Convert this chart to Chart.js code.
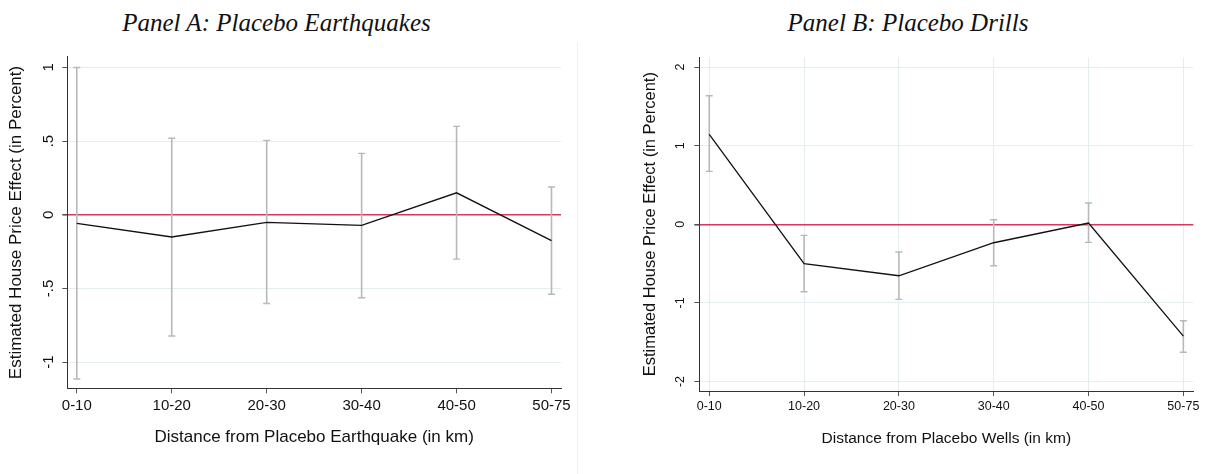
<!DOCTYPE html>
<html>
<head>
<meta charset="utf-8">
<script src="https://cdn.jsdelivr.net/npm/chart.js@4/dist/chart.umd.min.js"></script>
<style>
  body { margin: 0; background: #fff; width: 1206px; height: 474px; position: relative; overflow: hidden; }
  canvas { position: absolute; top: 0; }
  .panel-title { position: absolute; top: 8px; line-height: 30px; text-align: center;
    font-family: "Liberation Serif", serif; font-style: italic; font-size: 25px; color: #111; }
  .sep { position: absolute; left: 577px; top: 42px; width: 1px; height: 432px; background: #eef1f1; }
</style>
</head>
<body>
<div class="panel-title" style="left:0; width:553px;">Panel A: Placebo Earthquakes</div>
<div class="panel-title" style="left:608px; width:600px;">Panel B: Placebo Drills</div>
<div class="sep"></div>
<canvas id="chart-a" width="577" height="474" style="left:0"></canvas>
<canvas id="chart-b" width="576" height="474" style="left:630px"></canvas>
<script>
// --- data ---
const DISTANCE_BINS = ['0-10', '10-20', '20-30', '30-40', '40-50', '50-75'];

// Panel A: placebo earthquakes
const EST_A  = [-0.058, -0.151, -0.052, -0.072, 0.149, -0.176];
const HI_A   = [ 1.000,  0.519,  0.505,  0.417, 0.600,  0.188];
const LO_A   = [-1.115, -0.823, -0.602, -0.563, -0.301, -0.540];
const Y_TICKS_A  = [-1, -0.5, 0, 0.5, 1];
const Y_LABELS_A = ['-1', '-.5', '0', '.5', '1'];
const Y_RANGE_A  = [-1.178, 1.073];
const X_RANGE_A  = [-0.1, 5.1];

// Panel B: placebo drills
const EST_B  = [1.145, -0.501, -0.654, -0.234, 0.017, -1.421];
const HI_B   = [1.636, -0.140, -0.352,  0.059, 0.271, -1.226];
const LO_B   = [0.674, -0.857, -0.954, -0.527, -0.229, -1.628];
const Y_TICKS_B  = [-2, -1, 0, 1, 2];
const Y_LABELS_B = ['-2', '-1', '0', '1', '2'];
const Y_RANGE_B  = [-2.12, 2.125];
const X_RANGE_B  = [-0.105, 5.105];

const GRID = '#e4edef';
const ZERO_RED = '#d8375c';
const CI_GRAY = '#b8b8b8';
const AXIS = '#333';

Chart.defaults.font.family = '"Liberation Sans", Arial, sans-serif';
Chart.defaults.color = '#111';

// error bars as one broken line: (i, lo) -> (i, hi), then a gap
function ciSegments(lo, hi) {
  const pts = [];
  lo.forEach((v, i) => { pts.push({ x: i, y: v }, { x: i, y: hi[i] }, { x: i, y: null }); });
  return pts;
}

function makePanel(id, cfg) {
  const est = cfg.est.map((v, i) => ({ x: i, y: v }));
  return new Chart(document.getElementById(id), {
    type: 'line',
    data: {
      datasets: [
        {
          data: est, borderColor: '#111', borderWidth: 1.3,
          pointRadius: 0, tension: 0, order: 0,
        },
        {
          data: ciSegments(cfg.lo, cfg.hi), borderColor: CI_GRAY, borderWidth: 1.6,
          pointStyle: 'line', pointRadius: 3.5, pointBorderColor: CI_GRAY,
          pointBorderWidth: 1.4, spanGaps: false, order: 1,
        },
      ],
    },
    options: {
      responsive: false, animation: false, events: [],
      devicePixelRatio: 1,
      layout: { padding: cfg.padding },
      plugins: { legend: { display: false }, tooltip: { enabled: false }, title: { display: false } },
      scales: {
        x: {
          type: 'linear', min: cfg.xRange[0], max: cfg.xRange[1],
          afterBuildTicks: s => { s.ticks = DISTANCE_BINS.map((_, i) => ({ value: i })); },
          afterFit: s => { s.height = cfg.xHeight; },
          ticks: {
            callback: v => DISTANCE_BINS[v], autoSkip: false, maxRotation: 0,
            font: { size: cfg.tickSize }, color: '#111', padding: cfg.xTickPad,
          },
          grid: {
            color: GRID, drawOnChartArea: cfg.vGrid, tickLength: 5, tickColor: '#555',
          },
          border: { color: AXIS, width: 1 },
          title: {
            display: true, text: cfg.xTitle, font: { size: cfg.titleSize },
            color: '#111', padding: { top: 0, bottom: cfg.xTitlePad },
          },
        },
        y: {
          min: cfg.yRange[0], max: cfg.yRange[1],
          afterBuildTicks: s => { s.ticks = cfg.yTicks.map(v => ({ value: v })); },
          afterFit: s => { s.width = cfg.yWidth; },
          ticks: {
            callback: v => cfg.yLabels[cfg.yTicks.indexOf(v)],
            minRotation: 90, maxRotation: 90, crossAlign: 'center',
            font: { size: cfg.tickSize }, color: '#111', padding: cfg.yTickPad,
          },
          grid: {
            color: c => (c.tick && c.tick.value === 0 ? ZERO_RED : GRID),
            lineWidth: c => (c.tick && c.tick.value === 0 ? 1.6 : 1),
            tickLength: 5, tickColor: '#555',
          },
          border: { color: AXIS, width: 1 },
          title: {
            display: true, text: 'Estimated House Price Effect (in Percent)',
            font: { size: cfg.yTitleSize }, color: '#111', padding: { top: cfg.yTitlePad, bottom: 0 },
          },
        },
      },
    },
  });
}

makePanel('chart-a', {
  est: EST_A, lo: LO_A, hi: HI_A,
  yTicks: Y_TICKS_A, yLabels: Y_LABELS_A, yRange: Y_RANGE_A, xRange: X_RANGE_A,
  xTitle: 'Distance from Placebo Earthquake (in km)',
  padding: { top: 56.7, right: 16, left: 0, bottom: 0 },
  xHeight: 85.7, yWidth: 67.3,
  tickSize: 15, titleSize: 17, yTitleSize: 17,
  xTickPad: 4, yTickPad: 5, xTitlePad: 26, yTitlePad: 6.5,
  vGrid: false,
});

makePanel('chart-b', {
  est: EST_B, lo: LO_B, hi: HI_B,
  yTicks: Y_TICKS_B, yLabels: Y_LABELS_B, yRange: Y_RANGE_B, xRange: X_RANGE_B,
  xTitle: 'Distance from Placebo Wells (in km)',
  padding: { top: 57.3, right: 12.7, left: 0, bottom: 0 },
  xHeight: 83, yWidth: 69.3,
  tickSize: 12.5, titleSize: 15.5, yTitleSize: 16.5,
  xTickPad: 3, yTickPad: 8.5, xTitlePad: 25.5, yTitlePad: 10.5,
  vGrid: true,
});
</script>
</body>
</html>
